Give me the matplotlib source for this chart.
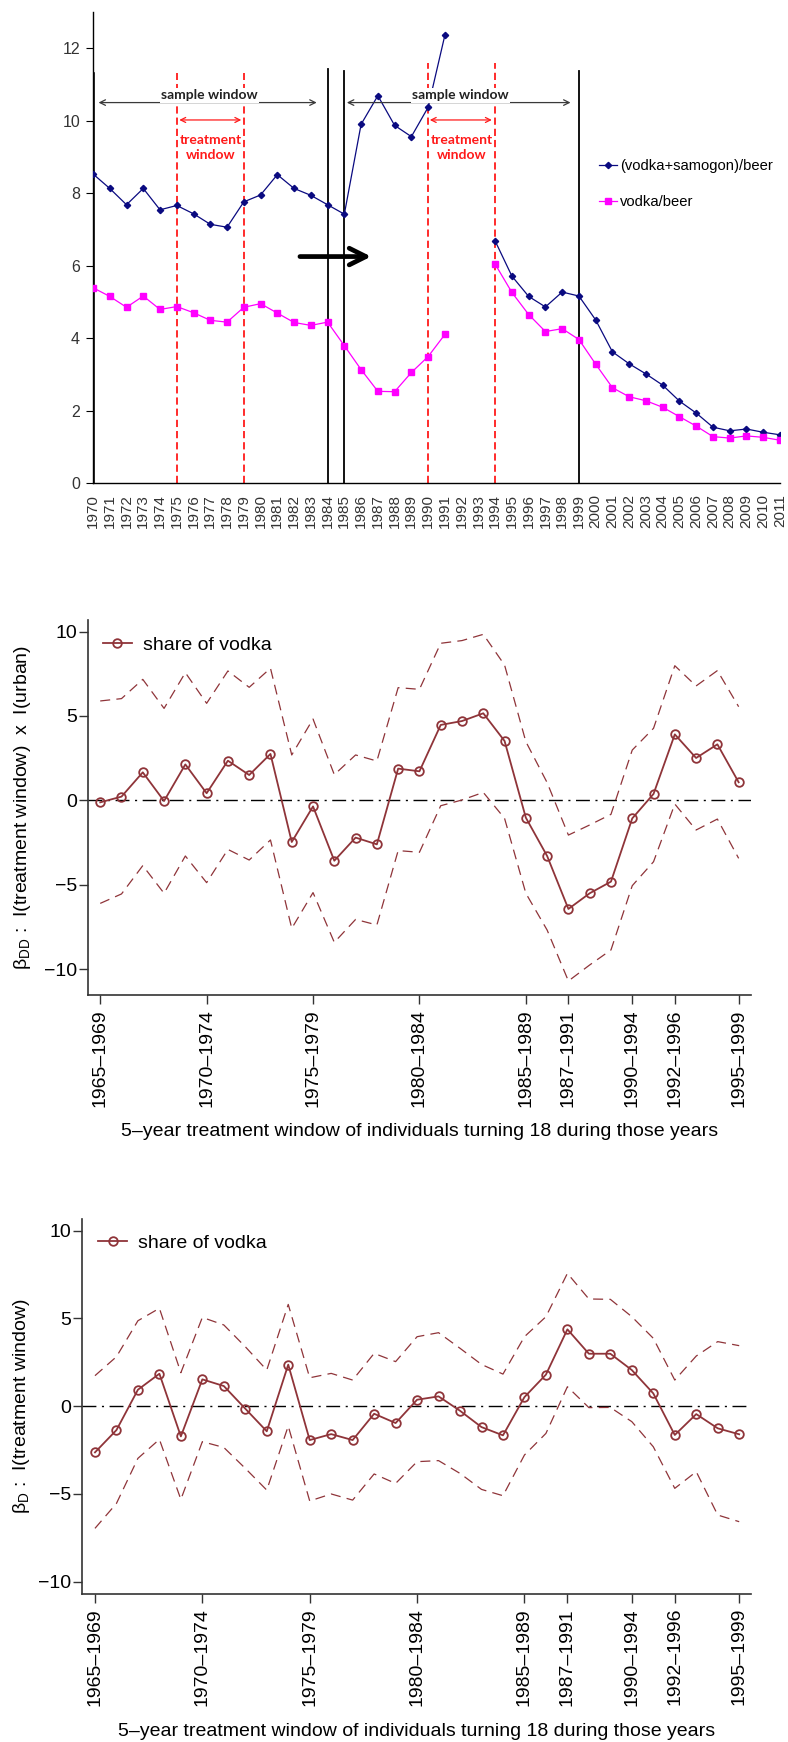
import numpy as np
import matplotlib
matplotlib.use("Agg")
import matplotlib.pyplot as plt

plt.rcParams["font.family"] = ["Liberation Sans", "DejaVu Sans"]
plt.rcParams["mathtext.fontset"] = "custom"
plt.rcParams["mathtext.rm"] = "Liberation Sans"
plt.rcParams["mathtext.it"] = "Liberation Sans:italic"

# ---------------- panel 1: consumption ratios by year ----------------
years = np.arange(1970, 2012)
vodka_samogon_beer = [8.53, 8.13, 7.68, 8.13, 7.54, 7.66, 7.43, 7.14, 7.06, 7.76,
                      7.95, 8.51, 8.13, 7.94, 7.68, 7.42, 9.90, 10.69, 9.87, 9.56,
                      10.37, 12.36, np.nan, np.nan, 6.68, 5.71, 5.15, 4.86, 5.27, 5.16,
                      4.50, 3.62, 3.29, 3.01, 2.70, 2.26, 1.93, 1.54, 1.44, 1.49,
                      1.40, 1.33]
vodka_beer = [5.39, 5.15, 4.85, 5.16, 4.79, 4.87, 4.70, 4.49, 4.44, 4.85,
              4.95, 4.69, 4.43, 4.35, 4.44, 3.79, 3.13, 2.53, 2.52, 3.05,
              3.49, 4.10, np.nan, np.nan, 6.04, 5.26, 4.65, 4.18, 4.26, 3.96,
              3.28, 2.63, 2.38, 2.27, 2.09, 1.83, 1.57, 1.28, 1.24, 1.30,
              1.26, 1.18]

sample_bounds = [1970, 1984, 1985, 1999]
sample_tops = [11.28, 11.42, 11.36, 11.38]
sample_widths = [2.6, 1.3, 1.3, 1.3]
treat_bounds = [1975, 1979, 1990, 1994]
treat_tops = [11.33, 11.33, 11.6, 11.6]
sample_spans = [(1970.33, 1983.35), (1985.15, 1998.5)]
treat_spans = [(1975.15, 1978.85), (1990.1, 1993.8)]

# ---------------- panels 2 and 3: coefficients by 5-year window ----------------
window_start = np.arange(1965, 1996)
tick_starts = [1965, 1970, 1975, 1980, 1985, 1987, 1990, 1992, 1995]
tick_labels = ["1965–1969", "1970–1974", "1975–1979", "1980–1984", "1985–1989",
               "1987–1991", "1990–1994", "1992–1996", "1995–1999"]

dd_est = [-0.12, 0.22, 1.66, -0.04, 2.13, 0.42, 2.35, 1.50, 2.75, -2.47,
          -0.36, -3.58, -2.21, -2.61, 1.88, 1.72, 4.47, 4.70, 5.16, 3.52,
          -1.03, -3.30, -6.44, -5.51, -4.82, -1.07, 0.38, 3.91, 2.51, 3.32,
          1.07]
dd_hi = [5.89, 6.03, 7.17, 5.45, 7.57, 5.75, 7.67, 6.70, 7.83, 2.69,
         4.82, 1.52, 2.69, 2.33, 6.68, 6.58, 9.31, 9.47, 9.84, 8.02,
         3.48, 1.05, -2.06, -1.46, -0.83, 2.98, 4.27, 7.98, 6.78, 7.69,
         5.55]
dd_lo = [-6.11, -5.55, -3.87, -5.51, -3.30, -4.88, -2.91, -3.54, -2.35, -7.59,
         -5.47, -8.42, -7.06, -7.39, -2.98, -3.08, -0.32, 0.02, 0.47, -1.07,
         -5.51, -7.69, -10.71, -9.76, -8.87, -5.06, -3.64, -0.22, -1.76, -1.11,
         -3.44]

d_est = [-2.64, -1.37, 0.93, 1.84, -1.73, 1.52, 1.14, -0.15, -1.44, 2.36,
         -1.94, -1.60, -1.94, -0.44, -0.97, 0.36, 0.55, -0.27, -1.20, -1.67,
         0.51, 1.79, 4.37, 2.98, 2.98, 2.05, 0.72, -1.65, -0.46, -1.27,
         -1.61]
d_hi = [1.73, 2.81, 4.86, 5.57, 1.90, 5.05, 4.62, 3.38, 2.05, 5.79,
        1.61, 1.86, 1.48, 3.00, 2.53, 3.95, 4.18, 3.29, 2.37, 1.82,
        3.95, 5.09, 7.56, 6.10, 6.08, 5.09, 3.86, 1.48, 2.85, 3.67,
        3.44]
d_lo = [-6.97, -5.55, -2.98, -1.90, -5.32, -2.03, -2.36, -3.55, -4.79, -1.14,
        -5.41, -5.01, -5.36, -3.87, -4.41, -3.17, -3.11, -3.84, -4.75, -5.11,
        -2.79, -1.56, 1.10, -0.09, -0.08, -0.89, -2.32, -4.69, -3.74, -6.21,
        -6.59]

NAVY = "#0A0A80"
MAGENTA = "#FF00FF"
MAROON = "#8F3439"

W, H = 788, 1742
fig = plt.figure(figsize=(W / 100, H / 100), dpi=100)


def frac(left, top, right, bottom):
    return [left / W, 1 - bottom / H, (right - left) / W, (bottom - top) / H]


# ---------------- panel 1 ----------------
ax1 = fig.add_axes(frac(92.5, 12, 780, 483))
ax1.plot(years, vodka_samogon_beer, color=NAVY, lw=0.9, marker="D", ms=3.2,
         label="(vodka+samogon)/beer", zorder=3)
ax1.plot(years, vodka_beer, color=MAGENTA, lw=0.9, marker="s", ms=4.8,
         label="vodka/beer", zorder=3)

for x, top, lw in zip(sample_bounds, sample_tops, sample_widths):
    ax1.plot([x, x], [0, top], color="black", lw=lw, zorder=2)
for x, top in zip(treat_bounds, treat_tops):
    ax1.plot([x, x], [0, top], color="#FF1A1A", lw=1.3, ls=(0, (4, 2.2)), zorder=2)

for (a, b) in sample_spans:
    ax1.annotate("", xy=(b, 10.5), xytext=(a, 10.5),
                 arrowprops=dict(arrowstyle="<->", color="#3A3A3A", lw=0.9,
                                 shrinkA=0, shrinkB=0, mutation_scale=10), zorder=4)
    ax1.text((a + b) / 2 + 0.1, 10.54, "sample window", family="Lato", weight="bold",
             fontsize=10, ha="center", va="bottom", color="#222222", zorder=5,
             bbox=dict(facecolor="white", edgecolor="none", pad=1.0))
for (a, b) in treat_spans:
    ax1.annotate("", xy=(b, 10.02), xytext=(a, 10.02),
                 arrowprops=dict(arrowstyle="<->", color="#FF1A1A", lw=0.9,
                                 shrinkA=0, shrinkB=0, mutation_scale=9), zorder=4)
    ax1.text((a + b) / 2 + 0.05, 9.26, "treatment\nwindow", family="Lato", weight="bold",
             fontsize=10, ha="center", va="center", color="#FF1A1A", linespacing=1.25,
             zorder=5)

ax1.annotate("", xy=(1986.6, 6.25), xytext=(1982.35, 6.25),
             arrowprops=dict(arrowstyle="->,head_length=1.2,head_width=0.6",
                             color="black", lw=3.4, shrinkA=0, shrinkB=0), zorder=4)

ax1.set_xlim(1969.97, 2011)
ax1.set_ylim(0, 13)
ax1.set_yticks(range(0, 13, 2))
ax1.set_xticks(years)
ax1.set_xticklabels([str(y) for y in years], rotation=90, fontsize=11, color="#333333")
ax1.tick_params(axis="y", labelsize=11.5, labelcolor="#333333", length=5, width=0.8,
                direction="out", pad=4)
ax1.tick_params(axis="x", length=0, pad=8)
for s in ("top", "right"):
    ax1.spines[s].set_visible(False)
for s in ("left", "bottom"):
    ax1.spines[s].set_linewidth(1.0)
    ax1.spines[s].set_color("black")
ax1.legend(loc="upper left", bbox_to_anchor=(0.737, 0.687), frameon=False,
           fontsize=10.6, handlelength=1.2, handletextpad=0.2, labelspacing=1.45,
           borderpad=0, borderaxespad=0)


# ---------------- panels 2 and 3 ----------------
def coef_panel(rect, est, lo, hi, ylim, ylabel, leg_anchor, ylab_x, xlab_y):
    ax = fig.add_axes(rect)
    ax.axhline(0, color="black", lw=1.0, ls=(0, (10, 4, 1.5, 4)), zorder=1)
    ax.plot(window_start, hi, color=MAROON, lw=0.9, ls=(0, (8, 5)), zorder=2)
    ax.plot(window_start, lo, color=MAROON, lw=0.9, ls=(0, (8, 5)), zorder=2)
    ax.plot(window_start, est, color=MAROON, lw=1.3, marker="o", ms=6.2,
            mfc="none", mec=MAROON, mew=1.3, label="share of vodka", zorder=3)
    ax.set_xlim(*ylim[0])
    ax.set_ylim(*ylim[1])
    ax.set_yticks([-10, -5, 0, 5, 10])
    ax.set_yticklabels(["−10", "−5", "0", "5", "10"])
    ax.set_xticks(tick_starts)
    ax.set_xticklabels(tick_labels, rotation=90)
    ax.tick_params(axis="y", labelsize=14, length=6.5, width=1.0, pad=1.5,
                   color="#333333")
    ax.tick_params(axis="x", labelsize=14, length=6.5, width=1.0, pad=3.5,
                   color="#333333")
    for s in ("top", "right"):
        ax.spines[s].set_visible(False)
    for s in ("left", "bottom"):
        ax.spines[s].set_linewidth(1.2)
        ax.spines[s].set_color("#333333")
    ax.set_ylabel(ylabel, fontsize=14)
    ax.yaxis.set_label_coords(ylab_x, 0.5)
    ax.set_xlabel("5–year treatment window of individuals turning 18 during those years",
                  fontsize=14)
    ax.xaxis.set_label_coords(0.5, xlab_y)
    ax.legend(loc="center left", bbox_to_anchor=leg_anchor, frameon=False, fontsize=14,
              handlelength=1.5, handletextpad=0.55, borderpad=0, borderaxespad=0)
    return ax


coef_panel(frac(88.3, 620, 751, 995.5), dd_est, dd_lo, dd_hi,
           ((1964.44, 1995.58), (-11.57, 10.69)),
           "β$_{\\rm DD}$ :  I(treatment window)  x  I(urban)",
           (0.022, 0.933), -0.084, -0.339)
coef_panel(frac(82.3, 1219.3, 751, 1594), d_est, d_lo, d_hi,
           ((1964.41, 1995.55), (-10.71, 10.64)),
           "β$_{\\rm D}$ :  I(treatment window)",
           (0.0235, 0.937), -0.075, -0.344)

fig.savefig("out.png", dpi=100)
